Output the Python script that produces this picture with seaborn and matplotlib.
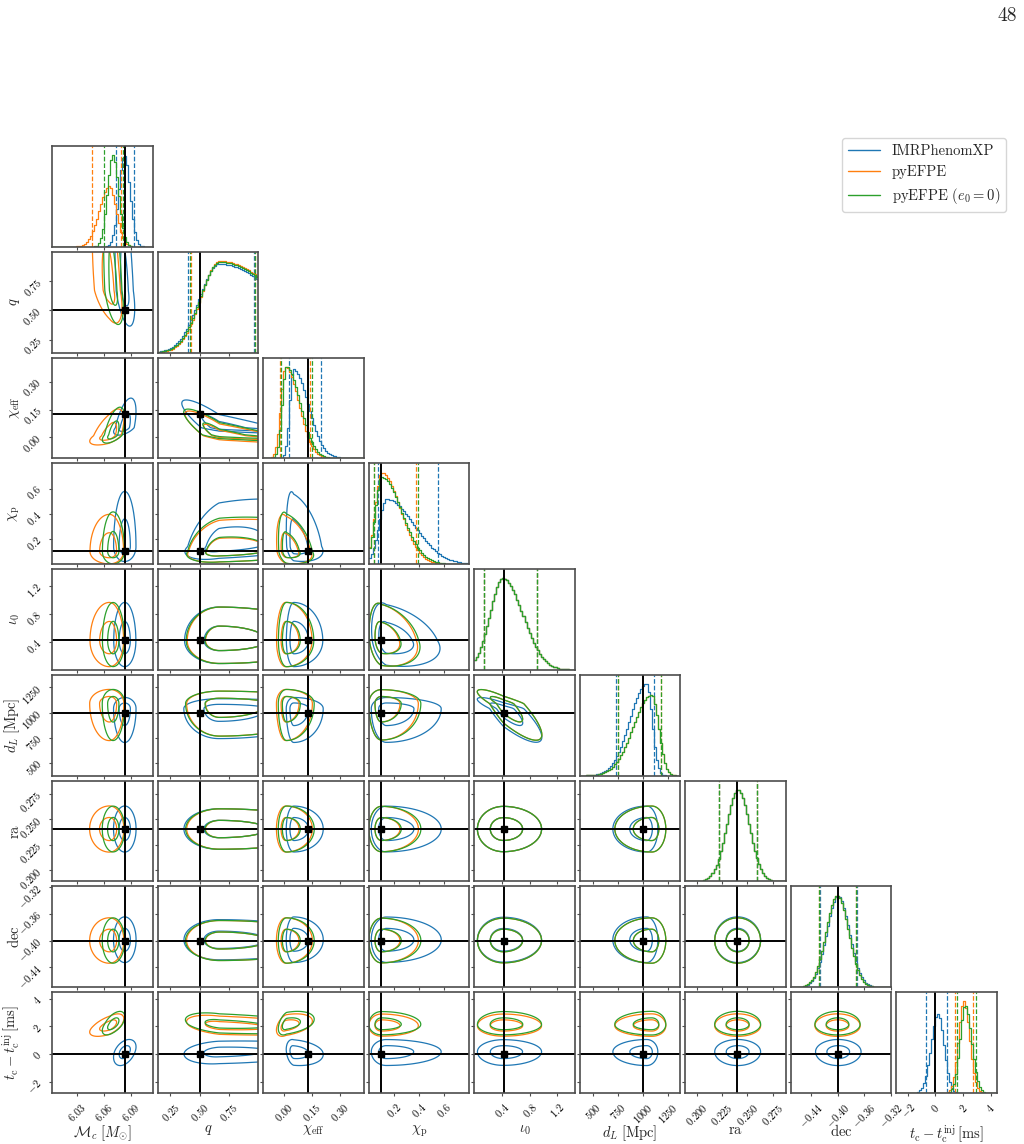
import numpy as np
import pandas as pd
import matplotlib
matplotlib.use("Agg")
import matplotlib.pyplot as plt
import seaborn as sns
from matplotlib.lines import Line2D

# ---------------- data ----------------
param_labels = [r"$\mathcal{M}_c\;[M_{\odot}]$", r"$q$", r"$\chi_{\rm eff}$", r"$\chi_{\rm p}$",
                r"$\iota_0$", r"$d_L\;[\mathrm{Mpc}]$", r"$\mathrm{ra}$", r"$\mathrm{dec}$",
                r"$t_{\rm c}-t_{\rm c}^{\rm inj}\,[\mathrm{ms}]$"]
truths = [6.083, 0.50, 0.127, 0.10, 0.43, 1000.0, 0.2403, -0.400, 0.0]
axis_lo = [6.002, 0.14, -0.113, 0.0, 0.0, 370.0, 0.189, -0.470, -2.80]
axis_hi = [6.114, 1.00, 0.430, 0.80, 1.45, 1375.0, 0.288, -0.319, 4.47]
bound_lo = [-np.inf, 0.05, -1.0, 0.0, 0.0, 0.0, -np.inf, -np.inf, -np.inf]
bound_hi = [np.inf, 1.0, 1.0, 1.0, np.pi, np.inf, np.inf, np.inf, np.inf]

tick_values = [[6.03, 6.06, 6.09], [0.25, 0.50, 0.75], [0.00, 0.15, 0.30], [0.2, 0.4, 0.6],
               [0.4, 0.8, 1.2], [500, 750, 1000, 1250], [0.200, 0.225, 0.250, 0.275],
               [-0.44, -0.40, -0.36, -0.32], [-2, 0, 2, 4]]
tick_text = [["6.03", "6.06", "6.09"], ["0.25", "0.50", "0.75"], ["0.00", "0.15", "0.30"],
             ["0.2", "0.4", "0.6"], ["0.4", "0.8", "1.2"], ["500", "750", "1000", "1250"],
             ["0.200", "0.225", "0.250", "0.275"], ["-0.44", "-0.40", "-0.36", "-0.32"],
             ["-2", "0", "2", "4"]]

series_names = ["IMRPhenomXP", "pyEFPE", r"pyEFPE ($e_0 = 0$)"]
series_colors = ["#1f77b4", "#ff7f0e", "#2ca02c"]

# posterior summaries (peak, width below peak, width above peak) per parameter
xp_mode = [6.083, 0.665, 0.052, 0.14, 0.42, 1040.0, 0.2405, -0.399, 0.18]
xp_sig_lo = [0.0062, 0.17, 0.020, 0.06, 0.19, 170.0, 0.0113, 0.0170, 0.50]
xp_sig_hi = [0.0063, 0.54, 0.080, 0.22, 0.28, 55.0, 0.0113, 0.0172, 0.44]

efpe_mode = [6.066, 0.67, 0.009, 0.10, 0.42, 1090.0, 0.2405, -0.400, 2.05]
efpe_sig_lo = [0.011, 0.16, 0.025, 0.05, 0.19, 185.0, 0.0113, 0.0170, 0.38]
efpe_sig_hi = [0.008, 0.54, 0.072, 0.15, 0.28, 70.0, 0.0113, 0.0170, 0.43]

e0_mode = [6.070, 0.67, 0.013, 0.10, 0.42, 1090.0, 0.2405, -0.400, 2.15]
e0_sig_lo = [0.0060, 0.165, 0.022, 0.05, 0.19, 185.0, 0.0113, 0.0170, 0.38]
e0_sig_hi = [0.0065, 0.54, 0.075, 0.16, 0.28, 70.0, 0.0113, 0.0170, 0.47]

# pairwise correlations (param i, param j, IMRPhenomXP, pyEFPE, pyEFPE e0=0)
pair_corr = [
    (0, 1, -0.50, -0.50, -0.50),
    (0, 2, 0.55, 0.60, 0.60),
    (0, 8, 0.40, 0.60, 0.60),
    (1, 2, -0.88, -0.88, -0.88),
    (1, 3, 0.40, 0.25, 0.25),
    (1, 8, 0.20, -0.40, -0.40),
    (2, 3, -0.30, -0.30, -0.30),
    (2, 8, -0.20, 0.40, 0.40),
    (3, 4, -0.30, -0.25, -0.25),
    (4, 5, -0.85, -0.85, -0.85),
]

hist_bins = 50
quantile_probs = [0.05, 0.95]
contour_mass = [1 - np.exp(-0.5), 1 - np.exp(-2.0)]

# ---------------- style ----------------
sns.set_style("ticks")
plt.rcParams.update({
    "font.family": "serif",
    "font.serif": ["cmr10"],
    "mathtext.fontset": "cm",
    "axes.unicode_minus": False,
    "axes.formatter.use_mathtext": True,
})

modes = [xp_mode, efpe_mode, e0_mode]
sig_lo = [xp_sig_lo, efpe_sig_lo, e0_sig_lo]
sig_hi = [xp_sig_hi, efpe_sig_hi, e0_sig_hi]
n = len(param_labels)
nser = len(series_names)

corr = np.zeros((nser, n, n))
for (i, j, *r) in pair_corr:
    for s in range(nser):
        corr[s, i, j] = corr[s, j, i] = r[s]

ext_lo = [max(bound_lo[k], axis_lo[k] - 0.7 * (axis_hi[k] - axis_lo[k])) for k in range(n)]
ext_hi = [min(bound_hi[k], axis_hi[k] + 0.7 * (axis_hi[k] - axis_lo[k])) for k in range(n)]


def split_u(x, s, k):
    m = modes[s][k]
    return np.where(x < m, (x - m) / sig_lo[s][k], (x - m) / sig_hi[s][k])


def inside(x, k):
    return (x >= bound_lo[k]) & (x <= bound_hi[k])


def pdf1d(x, s, k):
    u = split_u(x, s, k)
    return np.where(inside(x, k), np.exp(-0.5 * u ** 2), 0.0)


fig = plt.figure(figsize=(10.24, 11.44), dpi=100)
axes = fig.subplots(n, n)
fig.subplots_adjust(left=52 / 1024, right=997 / 1024, bottom=1 - 1093 / 1144,
                    top=1 - 146 / 1144, wspace=0.05, hspace=0.05)

spine_col = "0.3"
label_size = 10.5
for i in range(n):
    for j in range(n):
        ax = axes[i, j]
        if j > i:
            ax.set_visible(False)
            continue
        for sp in ax.spines.values():
            sp.set_visible(True)
            sp.set_linewidth(1.2)
            sp.set_edgecolor(spine_col)
        ax.tick_params(direction="out", length=2.5, width=0.8, colors=spine_col,
                       labelcolor="black", labelsize=7.5)

        if i == j:
            # ---------- marginal histograms ----------
            edges = np.linspace(axis_lo[j], axis_hi[j], hist_bins + 1)
            centers = 0.5 * (edges[1:] + edges[:-1])
            fine = np.linspace(ext_lo[j], ext_hi[j], 6000)
            ymax = 0
            for s in range(nser):
                pf = pdf1d(fine, s, j)
                norm = np.trapezoid(pf, fine)
                w = pdf1d(centers, s, j) / norm
                ymax = max(ymax, w.max())
                df = pd.DataFrame({"x": centers, "w": w})
                sns.histplot(data=df, x="x", weights="w", bins=hist_bins,
                             binrange=(axis_lo[j], axis_hi[j]), element="step",
                             fill=False, color=series_colors[s], linewidth=0.9, ax=ax)
                cdf = np.cumsum(pf)
                cdf /= cdf[-1]
                for p in quantile_probs:
                    ax.axvline(np.interp(p, cdf, fine), color=series_colors[s], ls="--", lw=0.9)
            ax.axvline(truths[j], color="k", lw=1.4)
            ax.set_ylim(0, 1.1 * ymax)
            ax.set_yticks([])
            ax.set_ylabel("")
        else:
            # ---------- 2D contours ----------
            gx = np.linspace(ext_lo[j], ext_hi[j], 240)
            gy = np.linspace(ext_lo[i], ext_hi[i], 240)
            X, Y = np.meshgrid(gx, gy)
            for s in range(nser):
                u = split_u(X, s, j)
                v = split_u(Y, s, i)
                r = corr[s, i, j]
                Q = (u ** 2 - 2 * r * u * v + v ** 2) / (1 - r ** 2)
                f = np.where(inside(X, j) & inside(Y, i), np.exp(-0.5 * Q), 0.0)
                flat = np.sort(f.ravel())[::-1]
                cm = np.cumsum(flat)
                cm /= cm[-1]
                lv = sorted(flat[np.searchsorted(cm, p)] for p in contour_mass)
                ax.contour(X, Y, f, levels=lv, colors=[series_colors[s]], linewidths=0.9)
            ax.axvline(truths[j], color="k", lw=1.4)
            ax.axhline(truths[i], color="k", lw=1.4)
            ax.plot([truths[j]], [truths[i]], "s", color="k", ms=5)
            ax.set_ylim(axis_lo[i], axis_hi[i])
            ax.set_yticks(tick_values[i])
            if j == 0:
                ax.set_yticklabels([f"${t}$" for t in tick_text[i]], rotation=45)
                ax.set_ylabel(param_labels[i], fontsize=label_size)
                ax.yaxis.set_label_coords(-0.3, 0.5)
            else:
                ax.set_yticklabels([])
                ax.set_ylabel("")

        ax.set_xlim(axis_lo[j], axis_hi[j])
        ax.set_xticks(tick_values[j])
        if i == n - 1:
            ax.set_xticklabels([f"${t}$" for t in tick_text[j]], rotation=45)
            ax.set_xlabel(param_labels[j], fontsize=label_size)
            ax.xaxis.set_label_coords(0.5, -0.3)
        else:
            ax.set_xticklabels([])
            ax.set_xlabel("")

handles = [Line2D([], [], color=c, lw=1.0) for c in series_colors]
fig.legend(handles, series_names, loc="upper right",
           bbox_to_anchor=(1013 / 1024, 1 - 131 / 1144), fontsize=10.5,
           handlelength=2.2, frameon=True, edgecolor="0.8", fancybox=True)
fig.text(1017 / 1024, 1 - 7 / 1144, "48", ha="right", va="top", fontsize=14)

fig.savefig("out.png", dpi=100)
